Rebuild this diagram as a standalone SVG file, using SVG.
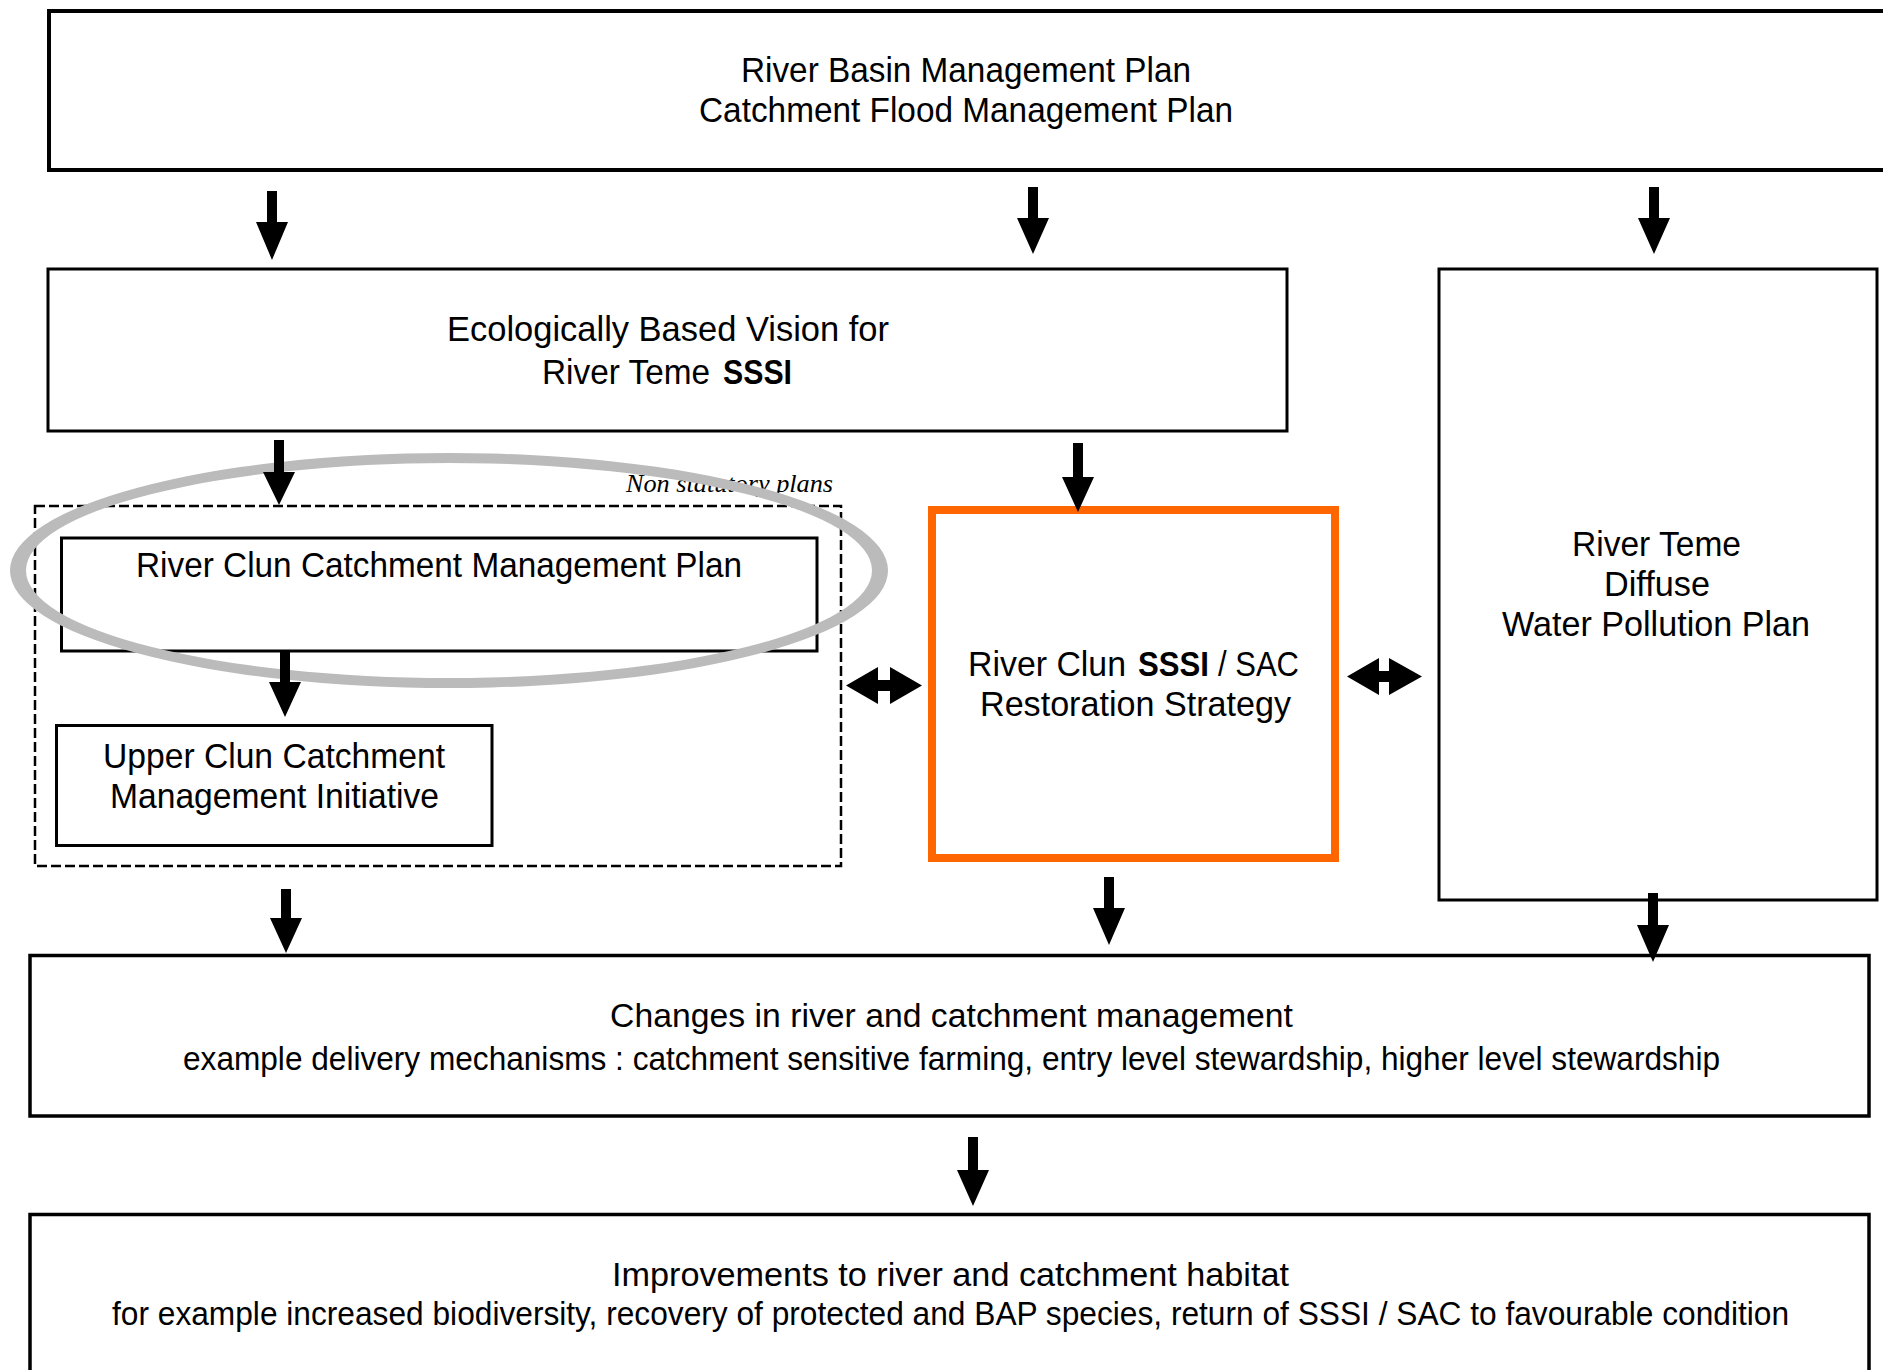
<svg xmlns="http://www.w3.org/2000/svg" width="1883" height="1370" viewBox="0 0 1883 1370">
<style>
.box{fill:#fff;stroke:#000;stroke-width:3}
.t{font-family:"Liberation Sans",Arial,sans-serif;font-size:35px;fill:#000}
.s{font-size:33px}
.b{font-weight:bold}
.arr{fill:#000}
</style>
<rect width="1883" height="1370" fill="#fff"/>
<g id="river-basin">
<rect class="box" x="49" y="11" width="1850" height="159" style="stroke-width:4"/>
<text class="t" x="741" y="82" textLength="450" lengthAdjust="spacingAndGlyphs">River Basin Management Plan</text>
<text class="t" x="699" y="122" textLength="534" lengthAdjust="spacingAndGlyphs">Catchment Flood Management Plan</text>
</g>
<g id="ecological-vision">
<rect class="box" x="48" y="269" width="1239" height="162"/>
<text class="t" x="447" y="341" textLength="442" lengthAdjust="spacingAndGlyphs">Ecologically Based Vision for</text>
<text class="t" x="542" y="384" textLength="168" lengthAdjust="spacingAndGlyphs">River Teme</text>
<text class="t b" x="723" y="384" textLength="69" lengthAdjust="spacingAndGlyphs">SSSI</text>
</g>
<g id="diffuse-plan">
<rect class="box" x="1439" y="269" width="438" height="631"/>
<text class="t" x="1572" y="556" textLength="169" lengthAdjust="spacingAndGlyphs">River Teme</text>
<text class="t" x="1604" y="596" textLength="106" lengthAdjust="spacingAndGlyphs">Diffuse</text>
<text class="t" x="1502" y="636" textLength="308" lengthAdjust="spacingAndGlyphs">Water Pollution Plan</text>
</g>
<g id="non-statutory">
<rect x="35" y="506" width="806" height="360" fill="none" stroke="#000" stroke-width="2.5" stroke-dasharray="10 4"/>
<text x="626" y="492" textLength="207" lengthAdjust="spacingAndGlyphs" style="font-family:'Liberation Serif','Times New Roman',serif;font-style:italic;font-size:26px;fill:#000">Non statutory plans</text>
</g>
<g id="clun-cmp">
<rect class="box" x="61.5" y="538" width="755.5" height="113"/>
<text class="t" x="136" y="577" textLength="606" lengthAdjust="spacingAndGlyphs">River Clun Catchment Management Plan</text>
</g>
<g id="upper-clun">
<rect class="box" x="56.5" y="725.5" width="435.5" height="120"/>
<text class="t" x="103" y="768" textLength="342" lengthAdjust="spacingAndGlyphs">Upper Clun Catchment</text>
<text class="t" x="110" y="808" textLength="329" lengthAdjust="spacingAndGlyphs">Management Initiative</text>
</g>
<g id="highlight">
<path fill="#BBBBBB" fill-rule="evenodd" d="M10 570.5a439 117.5 0 1 0 878 0a439 117.5 0 1 0 -878 0Z M26 570.5a423 107.5 0 1 0 846 0a423 107.5 0 1 0 -846 0Z"/>
</g>
<g id="restoration-strategy">
<rect x="932" y="510" width="403" height="348" fill="#fff" stroke="#FF6600" stroke-width="8"/>
<text class="t" x="968" y="676" textLength="158" lengthAdjust="spacingAndGlyphs">River Clun</text>
<text class="t b" x="1138" y="676" textLength="71" lengthAdjust="spacingAndGlyphs">SSSI</text>
<text class="t" x="1218" y="676" textLength="81" lengthAdjust="spacingAndGlyphs">/ SAC</text>
<text class="t" x="980" y="716" textLength="311" lengthAdjust="spacingAndGlyphs">Restoration Strategy</text>
</g>
<g id="changes">
<rect class="box" x="30" y="955.5" width="1839" height="160.5" style="stroke-width:3.5"/>
<text class="t s" x="610" y="1027" textLength="683" lengthAdjust="spacingAndGlyphs">Changes in river and catchment management</text>
<text class="t s" x="183" y="1070" textLength="1537" lengthAdjust="spacingAndGlyphs">example delivery mechanisms : catchment sensitive farming, entry level stewardship, higher level stewardship</text>
</g>
<g id="improvements">
<rect class="box" x="30" y="1214.5" width="1839" height="200" style="stroke-width:3.5"/>
<text class="t s" x="612" y="1286" textLength="677" lengthAdjust="spacingAndGlyphs">Improvements to river and catchment habitat</text>
<text class="t s" x="112" y="1325" textLength="1677" lengthAdjust="spacingAndGlyphs">for example increased biodiversity, recovery of protected and BAP species, return of SSSI / SAC to favourable condition</text>
</g>
<g id="connectors" class="arr">
<polygon points="267,191 277,191 277,222 288,222 272,260 256,222 267,222"/>
<polygon points="1028,187 1038,187 1038,218 1049,218 1033,254 1017,218 1028,218"/>
<polygon points="1649,187 1659,187 1659,218 1670,218 1654,254 1638,218 1649,218"/>
<polygon points="274,440 284,440 284,472 295,472 279,505 263,472 274,472"/>
<polygon points="1073,443 1083,443 1083,477 1094,477 1078,512 1062,477 1073,477"/>
<polygon points="280,652 290,652 290,682 301,682 285,717 269,682 280,682"/>
<polygon points="281,889 291,889 291,918 302,918 286,953 270,918 281,918"/>
<polygon points="1104,877 1114,877 1114,908 1125,908 1109,945 1093,908 1104,908"/>
<polygon points="1648,893 1658,893 1658,925 1669,925 1653,962 1637,925 1648,925"/>
<polygon points="968,1137 978,1137 978,1170 989,1170 973,1206 957,1170 968,1170"/>
<polygon points="846,685.5 878,667 878,680 890,680 890,667 922,685.5 890,704 890,691 878,691 878,704"/>
<polygon points="1347,676.5 1379,658 1379,671 1389,671 1389,658 1422,676.5 1389,695 1389,682 1379,682 1379,695"/>
</g>
</svg>
